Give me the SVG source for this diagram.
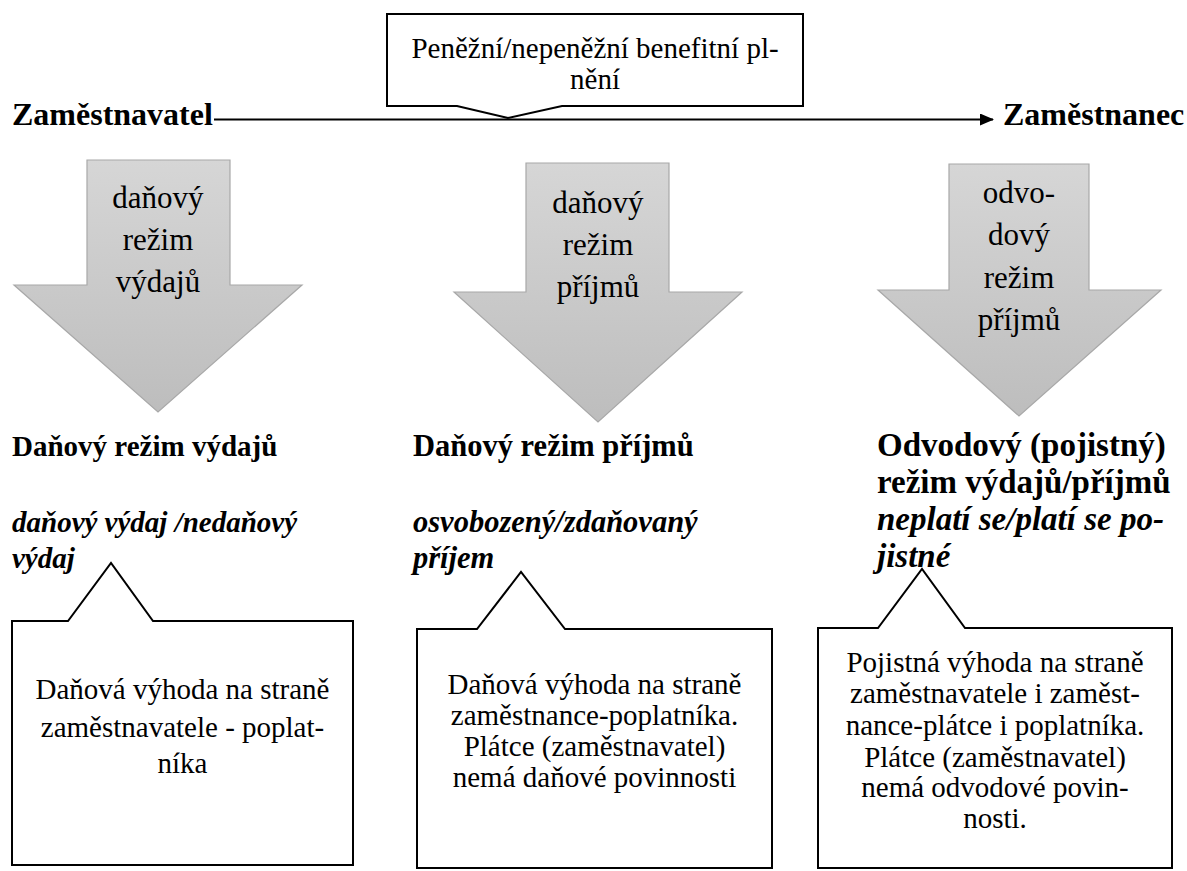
<svg xmlns="http://www.w3.org/2000/svg" width="1187" height="871" viewBox="0 0 1187 871">
<defs>
<linearGradient id="g" x1="0" y1="0" x2="0" y2="1">
<stop offset="0" stop-color="#d6d6d6"/>
<stop offset="1" stop-color="#bdbdbd"/>
</linearGradient>
<marker id="ah" markerWidth="14" markerHeight="12" refX="13" refY="6" orient="auto" markerUnits="userSpaceOnUse">
<path d="M0,0 L14,6 L0,12 Z" fill="#000"/>
</marker>
</defs>
<style>
text{font-family:"Liberation Serif","Times New Roman",serif;fill:#000}
.t{font-size:29px;text-anchor:middle}
.a{font-size:31px;text-anchor:middle}
.b{font-size:32px;font-weight:bold}
.h{font-size:29px;font-weight:bold}
.hi{font-size:29px;font-weight:bold;font-style:italic}
#col2 text{font-size:30.5px}
#col3 text{font-size:33px}
.arrow{fill:url(#g);stroke:#a8a8a8;stroke-width:1.2}
.box{fill:#fff;stroke:#000;stroke-width:2}
</style>
<rect width="1187" height="871" fill="#fff"/>
<g id="connectors">
<line x1="214" y1="119.5" x2="993" y2="119.5" stroke="#000" stroke-width="2" marker-end="url(#ah)"/>
</g>
<g id="benefit">
<path class="box" d="M387,14 H803 V106 H562 L508,118 L457,106 H387 Z"/>
<text class="t" x="595" y="58">Peněžní/nepeněžní benefitní pl-</text>
<text class="t" x="595" y="89">nění</text>
</g>
<g id="employer"><text class="b" x="12" y="125">Zaměstnavatel</text></g>
<g id="employee"><text class="b" x="1003" y="125">Zaměstnanec</text></g>
<g id="arrow1">
<path class="arrow" d="M87,160 H230 V285 H302 L158,412 L14,285 H87 Z"/>
<text class="a" x="158" y="208">daňový</text>
<text class="a" x="158" y="250">režim</text>
<text class="a" x="158" y="292">výdajů</text>
</g>
<g id="arrow2">
<path class="arrow" d="M526,163 H669 V292 H742 L598,422 L454,292 H526 Z"/>
<text class="a" x="598" y="213">daňový</text>
<text class="a" x="598" y="255">režim</text>
<text class="a" x="598" y="297">příjmů</text>
</g>
<g id="arrow3">
<path class="arrow" d="M949,164 H1089 V290 H1161 L1019,416 L878,290 H949 Z"/>
<text class="a" x="1019" y="203">odvo-</text>
<text class="a" x="1019" y="245">dový</text>
<text class="a" x="1019" y="288">režim</text>
<text class="a" x="1019" y="330">příjmů</text>
</g>
<g id="col1">
<text class="h" x="12" y="456">Daňový režim výdajů</text>
<text class="hi" x="12" y="532">daňový výdaj /nedaňový</text>
<text class="hi" x="12" y="568">výdaj</text>
</g>
<g id="col2">
<text class="h" x="413" y="456">Daňový režim příjmů</text>
<text class="hi" x="413" y="532">osvobozený/zdaňovaný</text>
<text class="hi" x="413" y="568">příjem</text>
</g>
<g id="col3">
<text class="h" x="877" y="456">Odvodový (pojistný)</text>
<text class="h" x="877" y="493">režim výdajů/příjmů</text>
<text class="hi" x="877" y="530">neplatí se/platí se po-</text>
<text class="hi" x="877" y="567">jistné</text>
</g>
<g id="box1">
<path class="box" d="M12,621 H68 L111,563 L153,621 H353 V865 H12 Z"/>
<text class="t" x="182.5" y="699">Daňová výhoda na straně</text>
<text class="t" x="182.5" y="737">zaměstnavatele - poplat-</text>
<text class="t" x="182.5" y="773">níka</text>
</g>
<g id="box2">
<path class="box" d="M417,629 H477 L521,572 L565,629 H772 V868 H417 Z"/>
<text class="t" x="594.5" y="694">Daňová výhoda na straně</text>
<text class="t" x="594.5" y="725">zaměstnance-poplatníka.</text>
<text class="t" x="594.5" y="756">Plátce (zaměstnavatel)</text>
<text class="t" x="594.5" y="787">nemá daňové povinnosti</text>
</g>
<g id="box3">
<path class="box" d="M818,628 H878 L922,569 L965,628 H1172 V868 H818 Z"/>
<text class="t" x="995" y="672">Pojistná výhoda na straně</text>
<text class="t" x="995" y="703">zaměstnavatele i zaměst-</text>
<text class="t" x="995" y="735">nance-plátce i poplatníka.</text>
<text class="t" x="995" y="767">Plátce (zaměstnavatel)</text>
<text class="t" x="995" y="797">nemá odvodové povin-</text>
<text class="t" x="995" y="828">nosti.</text>
</g>
</svg>
